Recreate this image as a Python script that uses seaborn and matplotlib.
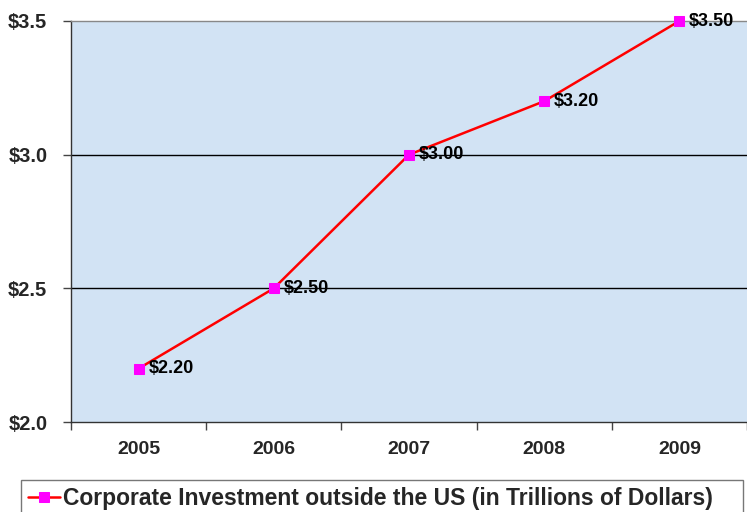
import matplotlib
matplotlib.use('Agg')
import matplotlib.pyplot as plt
import seaborn as sns
import pandas as pd

# --- Data ---
years = ['2005', '2006', '2007', '2008', '2009']
investment = [2.20, 2.50, 3.00, 3.20, 3.50]
series_name = 'Corporate Investment outside the US (in Trillions of Dollars)'

y_ticks = [2.0, 2.5, 3.0, 3.5]
y_tick_labels = ['$2.0', '$2.5', '$3.0', '$3.5']

df = pd.DataFrame({'Year': years, 'Investment': investment})
df['pos'] = range(len(df))

sns.set_theme(style='white')
plt.rcParams['font.family'] = ['Liberation Sans', 'DejaVu Sans']

W, H = 747, 512
fig = plt.figure(figsize=(W / 100, H / 100), dpi=100)
# plot area in pixel coords: left 71, right 747, top 21, bottom 422
ax = fig.add_axes([71 / W, 1 - 422 / H, (747 - 71) / W, (422 - 21) / H])
ax.set_facecolor('#d2e3f4')

# horizontal gridlines
for yv in [2.5, 3.0]:
    ax.axhline(yv, color='black', linewidth=1.0, zorder=1)

sns.lineplot(data=df, x='pos', y='Investment', ax=ax, color='#ff0000',
             linewidth=1.8, marker='s', markersize=7.5, markerfacecolor='#ff00ff',
             markeredgecolor='#ff00ff', label=series_name, legend=False,
             zorder=3, clip_on=False)

# data labels
for x, v in zip(df['pos'], df['Investment']):
    ax.annotate(f'${v:.2f}', (x, v), xytext=(7, 0), textcoords='offset points',
                ha='left', va='center', fontsize=13, fontweight='bold',
                color='black', zorder=4, annotation_clip=False)

ax.set_ylim(2.0, 3.5)
ax.set_xlim(-0.5, 4.5 - 13 / 138)
ax.set_yticks(y_ticks)
ax.set_yticklabels(y_tick_labels, fontsize=14.5, fontweight='bold')
ax.set_xticks(df['pos'])
ax.set_xticklabels(years, fontsize=14, fontweight='bold')
ax.set_xticks([p - 0.5 for p in df['pos']] + [4.5], minor=True)
ax.tick_params(axis='x', which='major', length=0, pad=14)
ax.tick_params(axis='x', which='minor', length=6, width=1, color='#444444',
               direction='out', bottom=True)
ax.tick_params(axis='y', length=6, width=1, color='#444444', direction='out',
               left=True, pad=11)
ax.set_xlabel('')
ax.set_ylabel('')

for side in ['left', 'bottom']:
    ax.spines[side].set_color('#333333')
    ax.spines[side].set_linewidth(1.0)
ax.spines['top'].set_color('#888888')
ax.spines['top'].set_linewidth(1.0)
ax.spines['right'].set_visible(False)

handles, labels = ax.get_legend_handles_labels()
leg_top = 1 - 480 / H
leg = fig.legend(handles, labels, loc='upper left',
                 bbox_to_anchor=(21 / W, leg_top - 0.2, (743 - 21) / W, 0.2),
                 mode='expand', borderaxespad=0, frameon=True, fancybox=False,
                 borderpad=0.3, handlelength=1.4, handletextpad=0.15,
                 prop={'size': 16.5, 'weight': 'bold'})
leg.get_frame().set_edgecolor('#555555')
leg.get_frame().set_linewidth(1.0)

fig.savefig('out.png', dpi=100, facecolor='white')
